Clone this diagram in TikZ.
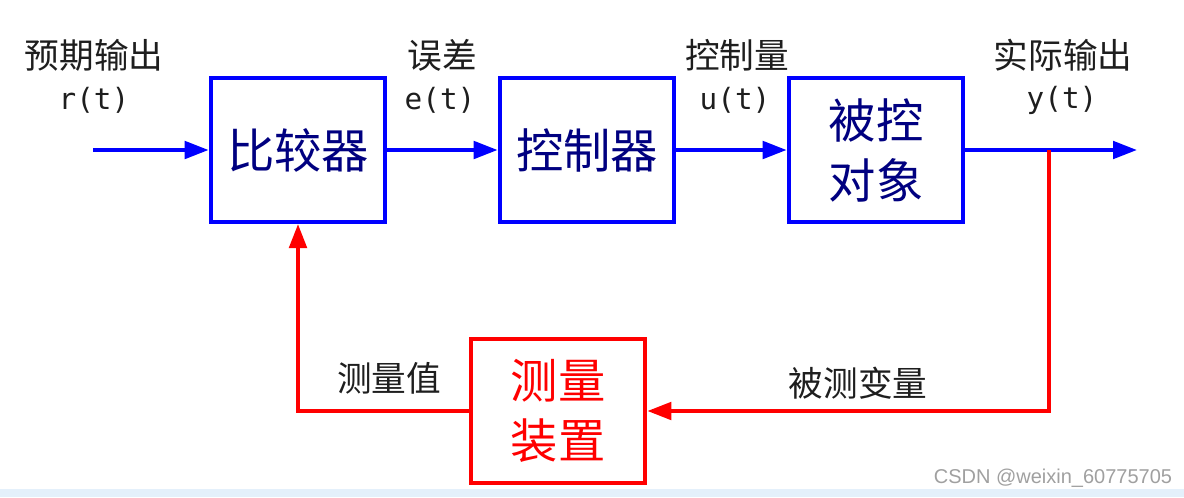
\documentclass[tikz,border=0pt]{standalone}
\usepackage{fontspec}
\setmainfont{Noto Sans CJK SC}
\newfontfamily\monof{DejaVu Sans Mono}
\newfontfamily\wmf{Liberation Sans}
\usetikzlibrary{arrows.meta}
\definecolor{lineblue}{RGB}{0,0,255}
\definecolor{linered}{RGB}{255,0,0}
\definecolor{navytext}{RGB}{0,0,128}
\definecolor{labeltext}{RGB}{30,30,30}
\definecolor{wmgray}{RGB}{160,160,160}
\definecolor{stripbg}{RGB}{228,240,251}
\begin{document}
\begin{tikzpicture}[x=0.75pt,y=-0.75pt,
  blk/.style={draw=lineblue, line width=3pt, minimum width=131pt, minimum height=108pt,
    inner sep=0pt, text=navytext, font=\fontsize{35.5}{45}\selectfont, align=center},
  redblk/.style={blk, draw=linered, text=linered},
  barrow/.style={draw=lineblue, line width=3pt, -{Triangle[length=18pt,width=13pt]}},
  rarrow/.style={draw=linered, line width=3pt, -{Triangle[length=18pt,width=13pt]}},
  lbl/.style={text=labeltext, font=\fontsize{26}{30}\selectfont, inner sep=0pt},
  sig/.style={text=labeltext, font=\monof\fontsize{22}{26}\selectfont, inner sep=0pt}]
\useasboundingbox (0,0) rectangle (1184,497);
\fill[white] (0,0) rectangle (1184,497);
\fill[stripbg] (0,489) rectangle (1184,497);

\node[blk] (cmp) at (298,150) {比较器};
\node[blk] (ctl) at (587,150) {控制器};
\node[blk] (plant) at (876,150) {被控\\对象};
\node[redblk] (meas) at (558,411) {测量\\装置};

\coordinate (in) at (93,150);
\coordinate (out) at (1137,150);
\coordinate (br) at (1049,150);

\draw[barrow] (in) -- (cmp.west);
\draw[barrow] (cmp.east) -- (ctl.west);
\draw[barrow] (ctl.east) -- (plant.west);
\draw[barrow] (plant.east) -- (out);
\draw[rarrow] (br) |- (meas.east);
\draw[rarrow] (meas.west) -| (cmp.south);

\node[lbl] (l1) at (94,55) {预期输出};
\node[sig] (s1) at (94,100) {r(t)};
\node[lbl] (l2) at (442,55) {误差};
\node[sig] (s2) at (440,100) {e(t)};
\node[lbl] (l3) at (737,55) {控制量};
\node[sig] (s3) at (735,100) {u(t)};
\node[lbl] (l4) at (1063,55) {实际输出};
\node[sig] (s4) at (1062,100) {y(t)};
\node[lbl] (l5) at (389,378) {测量值};
\node[lbl] (l6) at (858,383) {被测变量};

\node[text=wmgray, font=\wmf\fontsize{15}{18}\selectfont, inner sep=0pt] (wm) at (1053,478) {CSDN @weixin\_60775705};
\end{tikzpicture}
\end{document}
